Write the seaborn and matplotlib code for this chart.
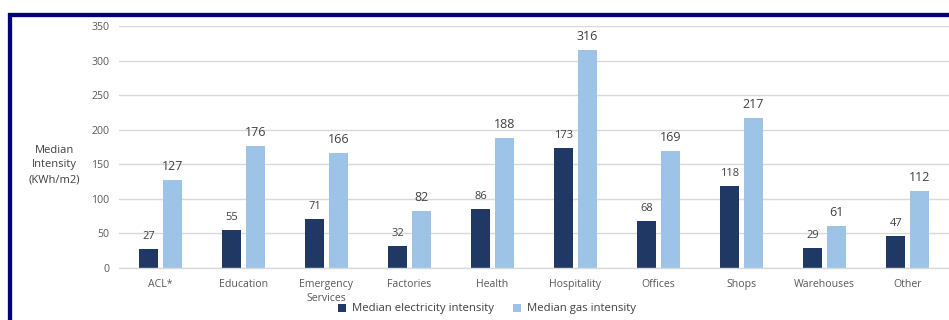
import matplotlib
matplotlib.use("Agg")
import matplotlib.pyplot as plt
import seaborn as sns
import pandas as pd
from matplotlib.patches import Rectangle

categories = ["ACL*", "Education", "Emergency\nServices", "Factories", "Health",
              "Hospitality", "Offices", "Shops", "Warehouses", "Other"]
electricity = [27, 55, 71, 32, 86, 173, 68, 118, 29, 47]
gas = [127, 176, 166, 82, 188, 316, 169, 217, 61, 112]
series_names = ["Median electricity intensity", "Median gas intensity"]
series_colors = ["#203864", "#9DC3E6"]

df = pd.DataFrame({
    "category": categories * 2,
    "value": electricity + gas,
    "series": [series_names[0]] * len(categories) + [series_names[1]] * len(categories),
})

sns.set_theme(style="white")
plt.rcParams["font.family"] = ["Open Sans", "DejaVu Sans"]

W, H = 949, 320
fig = plt.figure(figsize=(W / 100, H / 100), dpi=100)
ax = fig.add_axes([119 / W, 1 - 268 / H, (949 - 119) / W, (268 - 26) / H])

sns.barplot(data=df, x="category", y="value", hue="series", order=categories,
            hue_order=series_names, palette=series_colors, width=0.566, gap=0.21,
            saturation=1, ax=ax, legend=True, edgecolor="none")

ax.set_xlim(-0.5, len(categories) - 0.5)
ax.set_ylim(0, 350)
ax.set_yticks(range(0, 351, 50))
ax.yaxis.grid(True, color="#D9D9D9", linewidth=1)
ax.set_axisbelow(True)
for side in ["top", "right", "left"]:
    ax.spines[side].set_visible(False)
ax.spines["bottom"].set_color("#D9D9D9")
ax.spines["bottom"].set_linewidth(1)
ax.tick_params(axis="both", length=0, colors="#595959", labelsize=7.6)
ax.tick_params(axis="y", pad=7)
ax.tick_params(axis="x", pad=8)
for lbl in ax.get_xticklabels():
    lbl.set_linespacing(1.3)
ax.set_xlabel("")
ax.set_ylabel("")

# value labels above bars
for cont, fs in zip(ax.containers, [8, 9]):
    ax.bar_label(cont, labels=[f"{v:.0f}" for v in cont.datavalues],
                 padding=5, fontsize=fs, color="#404040")

fig.text(54 / W, 1 - 165 / H, "Median\nIntensity\n(KWh/m2)", ha="center", va="center",
         fontsize=8, color="#404040", linespacing=1.45)

handles, labels = ax.get_legend_handles_labels()
ax.get_legend().remove()
fig.legend(handles, labels, loc="center", bbox_to_anchor=(487 / W, 1 - 309 / H),
           ncol=2, frameon=False, fontsize=8.2, labelcolor="#404040",
           handlelength=0.7, handleheight=0.7, handletextpad=0.5, columnspacing=1.7)

# navy frame around the figure panel
fig.add_artist(Rectangle((9.75 / W, -0.2), 1.2, (1 - 14.6 / H) + 0.2,
                         transform=fig.transFigure, fill=False,
                         edgecolor="#000080", linewidth=3.1, clip_on=False))

fig.savefig("out.png", dpi=100, facecolor="white")
